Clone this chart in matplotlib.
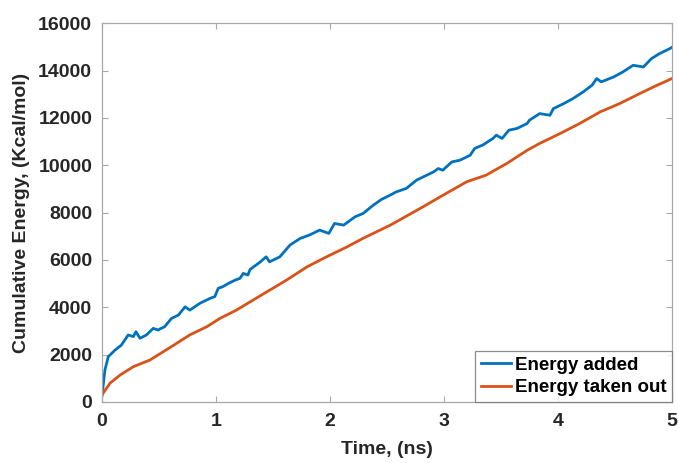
import matplotlib.pyplot as plt

# values
t_added = [0.0, 0.006, 0.026, 0.055, 0.114, 0.17, 0.23, 0.275, 0.298, 0.333, 0.39,
           0.45, 0.49, 0.55, 0.61, 0.67, 0.73, 0.77, 0.86, 0.95, 0.99, 1.02, 1.06,
           1.11, 1.17, 1.21, 1.24, 1.28, 1.30, 1.39, 1.44, 1.47, 1.56, 1.65, 1.74,
           1.82, 1.91, 1.99, 2.04, 2.12, 2.22, 2.29, 2.38, 2.45, 2.53, 2.58, 2.67,
           2.76, 2.85, 2.91, 2.95, 2.99, 3.07, 3.14, 3.23, 3.27, 3.34, 3.43, 3.46,
           3.51, 3.57, 3.64, 3.73, 3.75, 3.84, 3.93, 3.96, 4.05, 4.13, 4.22, 4.30,
           4.34, 4.38, 4.49, 4.57, 4.66, 4.75, 4.82, 4.89, 4.98, 5.0]
e_added = [250, 506, 1350, 1910, 2190, 2400, 2830, 2760, 2970, 2690, 2830,
           3110, 3040, 3180, 3530, 3670, 4020, 3880, 4170, 4380, 4450, 4800, 4870,
           5010, 5150, 5220, 5430, 5360, 5600, 5920, 6130, 5920, 6130, 6630, 6910,
           7050, 7260, 7120, 7540, 7470, 7820, 7960, 8310, 8550, 8740, 8870, 9020,
           9370, 9580, 9720, 9860, 9790, 10140, 10210, 10420, 10710, 10850, 11130, 11270,
           11130, 11480, 11550, 11760, 11900, 12180, 12110, 12390, 12600, 12810, 13090, 13380,
           13660, 13520, 13730, 13940, 14220, 14150, 14500, 14710, 14920, 14980]

t_out = [0.0, 0.07, 0.16, 0.275, 0.42, 0.49, 0.63, 0.77, 0.92, 1.035, 1.18, 1.30,
         1.62, 1.80, 1.97, 2.15, 2.29, 2.44, 2.53, 2.79, 3.02, 3.20, 3.37, 3.55,
         3.73, 3.84, 4.02, 4.19, 4.37, 4.54, 4.72, 4.84, 5.0]
e_out = [300, 790, 1140, 1490, 1770, 1980, 2400, 2830, 3180, 3530, 3880, 4230,
         5150, 5710, 6130, 6550, 6910, 7260, 7470, 8170, 8810, 9300, 9580, 10070,
         10630, 10920, 11340, 11760, 12250, 12600, 13030, 13310, 13660]

plt.rcParams['font.family'] = ['Liberation Sans', 'DejaVu Sans']
plt.rcParams['font.weight'] = 'bold'

fig = plt.figure(figsize=(6.78, 4.63), dpi=100)
ax = fig.add_axes([0.1504, 0.1318, 0.8406, 0.8182])

ax.plot(t_added, e_added, color='#0072BD', lw=2.0, label='Energy added')
ax.plot(t_out, e_out, color='#D95319', lw=2.0, label='Energy taken out')

ax.set_xlim(0, 5)
ax.set_ylim(0, 16000)
ax.set_xticks([0, 1, 2, 3, 4, 5])
ax.set_yticks(range(0, 16001, 2000))

for s in ax.spines.values():
    s.set_color('#a8a8a8')
    s.set_linewidth(0.9)
ax.tick_params(direction='in', top=True, right=True, length=4, width=0.8,
               color='#a8a8a8', labelsize=14, labelcolor='#262626')
ax.tick_params(axis='x', pad=8)
ax.tick_params(axis='y', pad=7)
for lab in ax.get_xticklabels() + ax.get_yticklabels():
    lab.set_fontweight('bold')

ax.set_xlabel('Time, (ns)', fontsize=14, fontweight='bold', color='#262626', labelpad=8)
ax.set_ylabel('Cumulative Energy, (Kcal/mol)', fontsize=14, fontweight='bold',
              color='#262626', labelpad=6)

leg = ax.legend(loc='lower right', fontsize=13.5, frameon=True, fancybox=False,
                borderaxespad=0, handlelength=1.6, handletextpad=0.2,
                borderpad=0.3, labelspacing=0.3)
leg.get_frame().set_edgecolor('#707070')
leg.get_frame().set_linewidth(0.9)
for txt in leg.get_texts():
    txt.set_fontweight('bold')

fig.savefig('out.png', dpi=100)
